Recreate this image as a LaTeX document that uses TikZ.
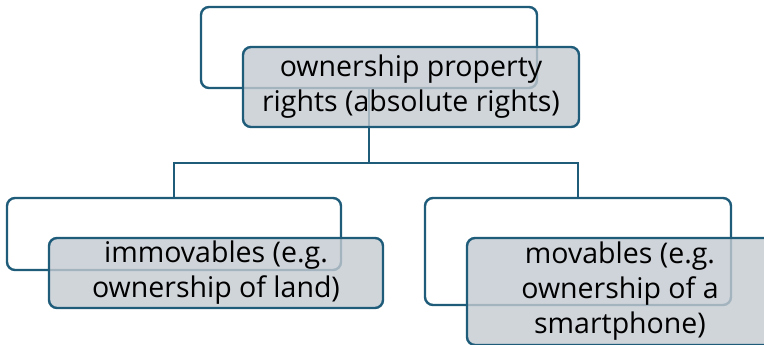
\documentclass[tikz,border=0pt]{standalone}
\usepackage{fontspec}
\setmainfont{Open Sans}
\definecolor{edge}{RGB}{31,92,122}
\definecolor{boxfill}{RGB}{196,202,209}
\begin{document}
\begin{tikzpicture}[x=1pt,y=-1pt,
  backbox/.style={draw=edge, line width=2.4pt, rounded corners=8pt, fill=white,
    inner sep=0pt, outer sep=0pt},
  frontbox/.style={draw=edge, line width=2.4pt, rounded corners=8pt, fill=boxfill,
    fill opacity=0.8, text opacity=1, inner sep=0pt, outer sep=0pt, align=center,
    font=\fontsize{28.5}{35}\selectfont},
  link/.style={draw=edge, line width=2.4pt}]
\useasboundingbox (0,0) rectangle (764,345);
\clip (0,0) rectangle (764,345);
% back boxes
\node[backbox, minimum width=336pt, minimum height=81pt] (rootback) at (369,47.5) {};
\node[backbox, minimum width=334pt, minimum height=72pt] (leftback) at (174,234) {};
\node[backbox, minimum width=306pt, minimum height=107pt] (rightback) at (578,251.5) {};
% connectors
\coordinate (hy) at (0,163);
\draw[link] (rootback.south) -- (rootback.south |- hy) -| (leftback.north);
\draw[link] (rootback.south |- hy) -| (rightback.north);
% front boxes
\node[frontbox, minimum width=336pt, minimum height=80pt] (root) at (411,87)
  {ownership property\\rights (absolute rights)};
\node[frontbox, minimum width=334pt, minimum height=70pt] (left) at (216,273)
  {immovables (e.g.\\ownership of land)};
\node[frontbox, minimum width=306pt, minimum height=107pt] (right) at (620,291.5)
  {movables (e.g.\\ownership of a\\smartphone)};
\end{tikzpicture}
\end{document}
